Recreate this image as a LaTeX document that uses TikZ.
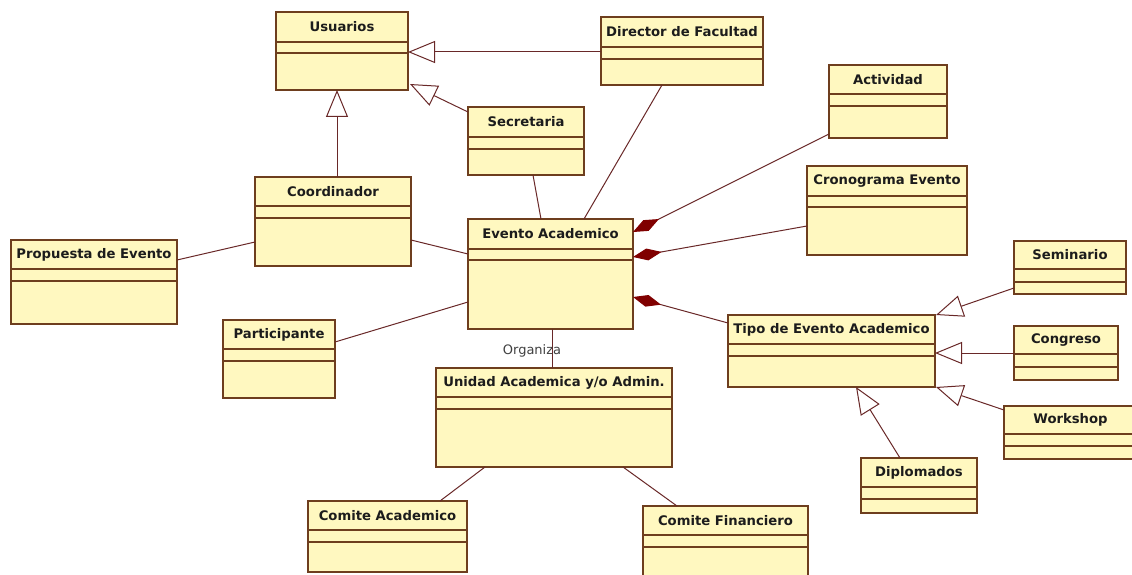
\documentclass[tikz,border=0pt]{standalone}
\usepackage{fontspec}
\setmainfont{DejaVu Sans}
\usetikzlibrary{arrows.meta}
\definecolor{clsfill}{RGB}{255,248,192}
\definecolor{clsdraw}{RGB}{110,62,30}
\definecolor{connclr}{RGB}{105,40,40}
\definecolor{diamclr}{RGB}{128,0,0}
\definecolor{txtclr}{RGB}{28,28,28}
\tikzset{
  cls/.style={draw=clsdraw, fill=clsfill, line width=1.4pt, inner sep=0pt, outer sep=0pt},
  clsln/.style={draw=clsdraw, line width=1.4pt},
  ttl/.style={inner sep=0pt, text=txtclr, font=\bfseries\fontsize{13.2}{15}\selectfont},
  conn/.style={draw=connclr, line width=1pt},
  gen/.style={conn, -{Triangle[length=27pt,width=22pt,fill=white,line width=1pt]}},
  compo/.style={conn, {Diamond[length=29pt,width=12pt,fill=diamclr,color=diamclr]}-},
  lbl/.style={inner sep=1pt, text=black!75, font=\fontsize{13}{15}\selectfont}
}
% name, x1, y1, x2, y2, line1, line2, title
\newcommand\umlcls[8]{%
  \node[cls, minimum width={#4-#2}, minimum height={#5-#3}, anchor=north west] (#1) at (#2,#3) {};
  \draw[clsln] ([shift={(0,#6-#3)}]#1.north west) -- ([shift={(0,#6-#3)}]#1.north east);
  \draw[clsln] ([shift={(0,#7-#3)}]#1.north west) -- ([shift={(0,#7-#3)}]#1.north east);
  \node[ttl] (#1t) at ([shift={({(#4-#2)/2},{(#6-#3)/2})}]#1.north west) {#8};
}
\begin{document}
\begin{tikzpicture}[x=1pt,y=-1pt]
\clip (0,0) rectangle (1132,575);
\fill[white] (0,0) rectangle (1132,575);

\umlcls{usr}{276}{12}{408}{90}{42}{53}{Usuarios}
\umlcls{dir}{601}{17}{763}{85}{47}{59}{Director de Facultad}
\umlcls{sec}{468}{107}{584}{175}{137}{149}{Secretaria}
\umlcls{evt}{468}{219}{633}{329}{249}{260}{Evento Academico}
\umlcls{act}{829}{65}{947}{138}{94}{106}{Actividad}
\umlcls{cro}{807}{166}{967}{255}{196}{207}{Cronograma Evento}
\umlcls{coo}{255}{177}{411}{266}{206}{218}{Coordinador}
\umlcls{pro}{11}{240}{177}{324}{269}{281}{Propuesta de Evento}
\umlcls{par}{223}{320}{335}{398}{349}{361}{Participante}
\umlcls{tip}{728}{315}{935}{387}{344}{356}{Tipo de Evento Academico}
\umlcls{uni}{436}{368}{672}{467}{397}{409}{Unidad Academica y/o Admin.}
\umlcls{cac}{308}{501}{467}{572}{530}{542}{Comite Academico}
\umlcls{cfi}{643}{506}{808}{600}{535}{547}{Comite Financiero}
\umlcls{sem}{1014}{241}{1126}{294}{269}{282}{Seminario}
\umlcls{con}{1014}{326}{1118}{380}{354}{367}{Congreso}
\umlcls{wor}{1004}{406}{1137}{459}{434}{446}{Workshop}
\umlcls{dip}{861}{458}{977}{513}{487}{499}{Diplomados}

% generalizations
\draw[gen] ([shift={(0,35)}]dir.north west) -- ([shift={(0,40)}]usr.north east);
\draw[gen] ([shift={(0,5)}]sec.north west) -- ([shift={(2,-6)}]usr.south east);
\draw[gen] ([shift={(82,0)}]coo.north west) -- ([shift={(61,0)}]usr.south west);
\draw[gen] ([shift={(0,47)}]sem.north west) -- ([shift={(1,0)}]tip.north east);
\draw[gen] ([shift={(0,27)}]con.north west) -- ([shift={(0,38)}]tip.north east);
\draw[gen] ([shift={(0,4)}]wor.north west) -- ([shift={(1,0)}]tip.south east);
\draw[gen] ([shift={(39,0)}]dip.north west) -- ([shift={(128,0)}]tip.south west);

% associations
\draw[conn] ([shift={(65,0)}]sec.south west) -- ([shift={(73,0)}]evt.north west);
\draw[conn] ([shift={(61,0)}]dir.south west) -- ([shift={(116,0)}]evt.north west);
\draw[conn] ([shift={(0,63)}]coo.north east) -- ([shift={(0,35)}]evt.north west);
\draw[conn] ([shift={(0,20)}]pro.north east) -- ([shift={(0,65)}]coo.north west);
\draw[conn] ([shift={(0,22)}]par.north east) -- ([shift={(0,83)}]evt.north west);
\draw[conn] ([shift={(84,0)}]evt.south west) -- ([shift={(116,0)}]uni.north west);
\node[lbl] (orgl) at (532,351) {Organiza};
\draw[conn] ([shift={(49,0)}]uni.south west) -- ([shift={(132,0)}]cac.north west);
\draw[conn] ([shift={(187,0)}]uni.south west) -- ([shift={(34,0)}]cfi.north west);

% compositions
\draw[compo] ([shift={(0,13)}]evt.north east) -- ([shift={(0,-4)}]act.south west);
\draw[compo] ([shift={(0,38)}]evt.north east) -- ([shift={(0,60)}]cro.north west);
\draw[compo] ([shift={(0,78)}]evt.north east) -- ([shift={(0,8)}]tip.north west);
\end{tikzpicture}
\end{document}
